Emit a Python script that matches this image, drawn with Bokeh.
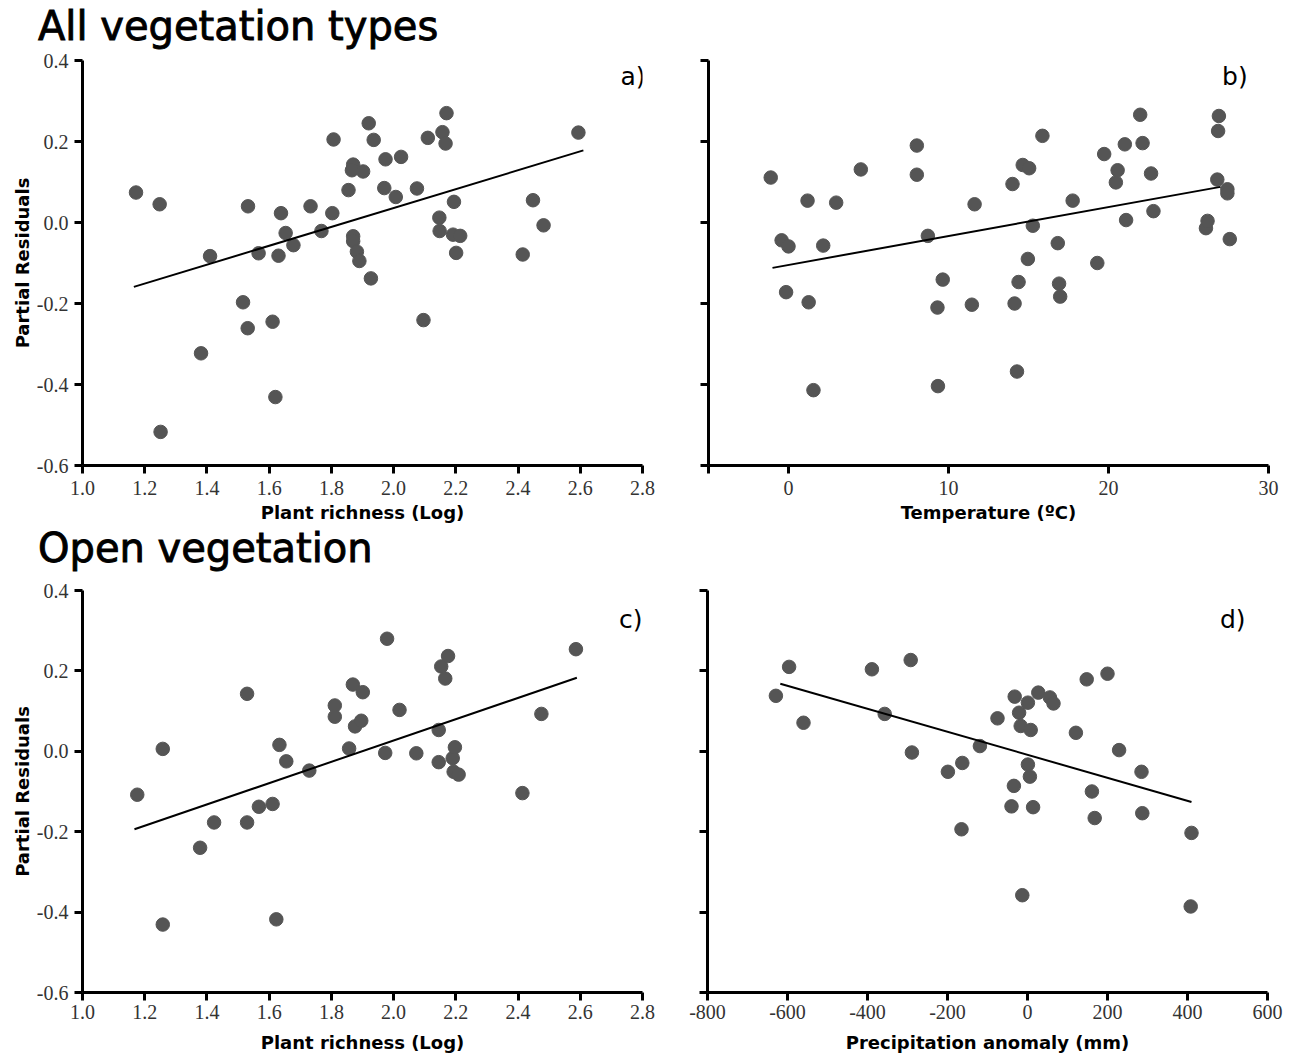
from bokeh.plotting import figure
from bokeh.layouts import column, row
from bokeh.models import Range1d, FixedTicker, Label, PrintfTickFormatter, Div
from bokeh.embed import file_html
from bokeh.resources import INLINE

# ---------------- data ----------------
# a) All vegetation types - plant richness
a_x = [1.172, 1.248, 1.251, 1.381, 1.410, 1.516, 1.532, 1.531, 1.566, 1.611,
       1.620, 1.630, 1.638, 1.653, 1.678, 1.733, 1.768, 1.803, 1.807, 1.855,
       1.870, 1.866, 1.870, 1.870, 1.882, 1.890, 1.902, 1.920, 1.927, 1.936,
       1.970, 1.974, 2.007, 2.024, 2.075, 2.096, 2.110, 2.147, 2.148, 2.157,
       2.167, 2.170, 2.194, 2.191, 2.214, 2.201, 2.415, 2.448, 2.482, 2.594]
a_y = [0.074, 0.045, -0.517, -0.323, -0.083, -0.197, 0.040, -0.261, -0.076, -0.245,
       -0.431, -0.082, 0.023, -0.026, -0.056, 0.040, -0.021, 0.023, 0.205, 0.080,
       0.143, 0.129, -0.034, -0.046, -0.072, -0.095, 0.126, 0.245, -0.138, 0.204,
       0.085, 0.156, 0.063, 0.162, 0.084, -0.241, 0.209, 0.012, -0.021, 0.223,
       0.195, 0.270, 0.051, -0.030, -0.033, -0.075, -0.079, 0.055, -0.007, 0.222]
a_fit_x = [1.165, 2.61]
a_fit_y = [-0.159, 0.178]

# b) All vegetation types - temperature
b_x = [-1.11, -0.43, 0.0, -0.15, 1.19, 1.26, 1.56, 2.17, 2.98, 4.52,
       8.02, 8.02, 8.71, 9.64, 9.31, 9.34, 11.46, 11.63, 14.00, 14.13,
       14.38, 14.28, 14.64, 15.04, 14.96, 15.27, 15.87, 16.83, 16.91, 16.98,
       17.76, 19.30, 19.73, 20.46, 20.57, 21.02, 21.10, 21.98, 22.13, 22.66,
       22.81, 26.09, 26.19, 26.80, 26.85, 26.90, 27.43, 27.43, 27.58]
b_y = [0.111, -0.044, -0.059, -0.172, 0.054, -0.197, -0.414, -0.057, 0.049, 0.131,
       0.190, 0.118, -0.033, -0.141, -0.210, -0.404, -0.203, 0.045, 0.095, -0.200,
       -0.147, -0.368, 0.142, 0.134, -0.090, -0.008, 0.214, -0.051, -0.151, -0.183,
       0.054, -0.100, 0.169, 0.099, 0.129, 0.193, 0.006, 0.266, 0.196, 0.121,
       0.028, -0.014, 0.004, 0.106, 0.226, 0.263, 0.082, 0.072, -0.041]
b_fit_x = [-1.0, 27.0]
b_fit_y = [-0.112, 0.088]

# c) Open vegetation - plant richness
c_x = [1.176, 1.258, 1.258, 1.378, 1.423, 1.529, 1.529, 1.567, 1.611, 1.623,
       1.633, 1.655, 1.729, 1.811, 1.811, 1.857, 1.869, 1.876, 1.896, 1.901,
       1.973, 1.979, 2.019, 2.073, 2.145, 2.145, 2.153, 2.166, 2.175, 2.190,
       2.197, 2.193, 2.209, 2.414, 2.475, 2.586]
c_y = [-0.108, 0.006, -0.431, -0.240, -0.177, 0.143, -0.177, -0.138, -0.131, -0.418,
       0.016, -0.025, -0.048, 0.114, 0.086, 0.007, 0.166, 0.062, 0.076, 0.147,
       -0.004, 0.280, 0.103, -0.005, 0.053, -0.027, 0.211, 0.181, 0.237, -0.017,
       0.010, -0.051, -0.058, -0.104, 0.093, 0.254]
c_fit_x = [1.167, 2.589]
c_fit_y = [-0.194, 0.183]

# d) Open vegetation - precipitation anomaly
d_x = [-629, -596, -560, -389, -357, -292, -289, -199, -163, -165,
       -119, -75, -40, -34, -32, -21, -17, -13, 1, 1,
       6, 8, 14, 27, 56, 65, 121, 148, 161, 168,
       200, 229, 285, 287, 410, 408]
d_y = [0.138, 0.210, 0.071, 0.204, 0.093, 0.227, -0.003, -0.051, -0.029, -0.194,
       0.013, 0.082, -0.137, -0.086, 0.136, 0.096, 0.063, -0.358, 0.121, -0.033,
       -0.063, 0.053, -0.139, 0.146, 0.134, 0.119, 0.046, 0.179, -0.100, -0.166,
       0.193, 0.003, -0.051, -0.154, -0.203, -0.386]
d_fit_x = [-618, 410]
d_fit_y = [0.168, -0.126]

y_ticks = [-0.6, -0.4, -0.2, 0.0, 0.2, 0.4]
rich_ticks = [1.0, 1.2, 1.4, 1.6, 1.8, 2.0, 2.2, 2.4, 2.6, 2.8]
temp_ticks = [-5, 0, 10, 20, 30]
prec_ticks = [-800, -600, -400, -200, 0, 200, 400, 600]

heading_top = "All vegetation types"
heading_bottom = "Open vegetation"

DOT = "#555555"
TICK_FONT = "Liberation Serif"
LABEL_FONT = "DejaVu Sans"


def make_panel(xs, ys, fx, fy, xr, xticks, xlabel, ylabel, tag, tag_x, tag_y,
               width, height, left, right, top, bottom, tick_so, label_so,
               show_ylabels=True, xfmt=None, xoverrides=None):
    p = figure(width=width, height=height, output_backend="svg",
               toolbar_location=None, x_range=Range1d(*xr), y_range=Range1d(-0.6, 0.4),
               min_border_left=left, min_border_right=right,
               min_border_top=top, min_border_bottom=bottom)
    p.grid.visible = False
    p.outline_line_color = None
    p.background_fill_color = "white"
    p.border_fill_color = None

    p.scatter(xs, ys, size=13.5, fill_color=DOT, line_color=DOT)
    p.line(fx, fy, line_color="black", line_width=2)

    for ax in (p.xaxis[0], p.yaxis[0]):
        ax.axis_line_width = 3
        ax.axis_line_color = "black"
        ax.major_tick_line_width = 3
        ax.major_tick_line_color = "black"
        ax.major_tick_out = 8
        ax.major_tick_in = 0
        ax.minor_tick_line_color = None
        ax.major_label_text_font = TICK_FONT
        ax.major_label_text_font_size = "20px"
        ax.major_label_text_color = "#333333"
        ax.axis_label_text_font = LABEL_FONT
        ax.axis_label_text_font_style = "bold"
        ax.axis_label_text_font_size = "18px"
        ax.axis_label_text_color = "black"

    p.xaxis[0].ticker = FixedTicker(ticks=xticks)
    p.xaxis[0].axis_label = xlabel
    p.xaxis[0].major_label_standoff = tick_so
    p.xaxis[0].axis_label_standoff = label_so
    if xfmt is not None:
        p.xaxis[0].formatter = PrintfTickFormatter(format=xfmt)
    if xoverrides:
        p.xaxis[0].major_label_overrides = xoverrides

    p.yaxis[0].ticker = FixedTicker(ticks=y_ticks)
    p.yaxis[0].formatter = PrintfTickFormatter(format="%.1f")
    p.yaxis[0].major_label_standoff = 6
    p.yaxis[0].axis_label_standoff = 1
    if ylabel:
        p.yaxis[0].axis_label = ylabel
    if not show_ylabels:
        p.yaxis[0].major_label_overrides = {t: "" for t in y_ticks}

    p.add_layout(Label(x=tag_x, y=tag_y, text=tag, text_align="right",
                       text_baseline="middle", text_font=LABEL_FONT,
                       text_font_size="25px", text_color="black"))
    return p


def heading(txt, height, top_margin):
    html = ('<div style="font-family: \'DejaVu Sans\'; font-size: 40px; '
            'line-height: 40px; color: black; white-space: nowrap; '
            '-webkit-text-stroke: 0.9px black; '
            'margin: %dpx 0 0 38px;">%s</div>' % (top_margin, txt))
    return Div(text=html, width=1283, height=height, margin=0)


pa = make_panel(a_x, a_y, a_fit_x, a_fit_y, (1.0, 2.8), rich_ticks,
                "Plant richness (Log)", "Partial Residuals", "a)", 2.81, 0.36,
                660, 477, 82, 18, 12, 60, 7, 4, xfmt="%.1f")
pb = make_panel(b_x, b_y, b_fit_x, b_fit_y, (-5, 30), temp_ticks,
                "Temperature (ºC)", None, "b)", 28.7, 0.36,
                623, 477, 48, 15, 12, 60, 7, 4, show_ylabels=False,
                xoverrides={-5: ""})
pc = make_panel(c_x, c_y, c_fit_x, c_fit_y, (1.0, 2.8), rich_ticks,
                "Plant richness (Log)", "Partial Residuals", "c)", 2.80, 0.328,
                660, 478, 82, 18, 12, 64, 4, 10, xfmt="%.1f")
pd_ = make_panel(d_x, d_y, d_fit_x, d_fit_y, (-800, 600), prec_ticks,
                 "Precipitation anomaly (mm)", None, "d)", 545, 0.328,
                 623, 478, 47, 16, 12, 64, 4, 10, show_ylabels=False, xfmt="%d")

layout = column(heading(heading_top, 48, 6), row(pa, pb),
                heading(heading_bottom, 53, 3), row(pc, pd_), spacing=0)
open("out.html", "w").write(file_html(layout, INLINE))
